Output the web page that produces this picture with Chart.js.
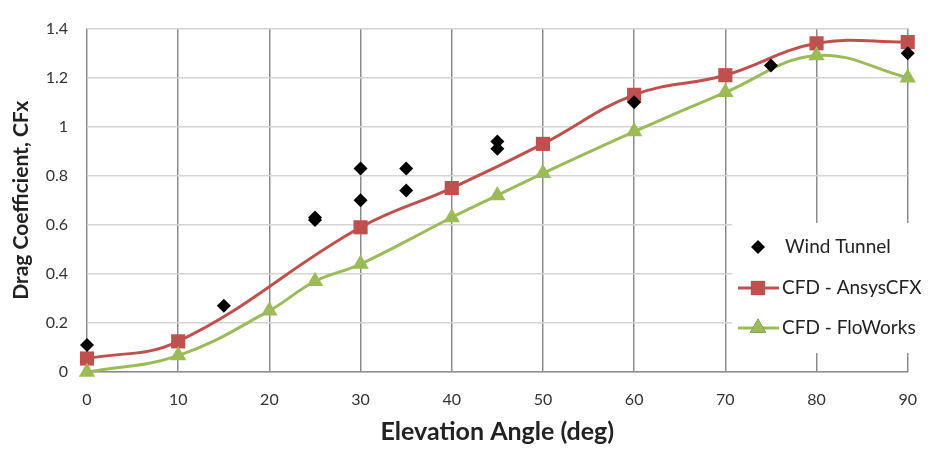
<!DOCTYPE html>
<html>
<head>
<meta charset="utf-8">
<script src="https://cdn.jsdelivr.net/npm/chart.js@4"></script>
<style>
  html, body { margin: 0; padding: 0; background: #fff; }
  #wrap { width: 935px; height: 452px; }
</style>
</head>
<body>
<div id="wrap"><canvas id="dragChart" width="935" height="452"></canvas></div>
<script>
// wind tunnel measurements (angle, Cfx)
const tunnelAngles = [0, 15, 25, 25, 30, 30, 35, 35, 45, 45, 60, 75, 90];
const tunnelCfx = [0.11, 0.27, 0.63, 0.62, 0.83, 0.70, 0.83, 0.74, 0.94, 0.91, 1.10, 1.25, 1.30];

// CFD - AnsysCFX
const ansysAngles = [0, 10, 30, 40, 50, 60, 70, 80, 90];
const ansysCfx = [0.055, 0.125, 0.59, 0.75, 0.93, 1.13, 1.21, 1.34, 1.345];

// CFD - FloWorks
const floAngles = [0, 10, 20, 25, 30, 40, 45, 50, 60, 70, 80, 90];
const floCfx = [0.0, 0.067, 0.25, 0.37, 0.44, 0.63, 0.72, 0.81, 0.98, 1.14, 1.29, 1.20];

const yTickLabels = ["0", "0.2", "0.4", "0.6", "0.8", "1", "1.2", "1.4"];
const xTickLabels = ["0", "10", "20", "30", "40", "50", "60", "70", "80", "90"];

const FONT = "Lato, 'Open Sans', sans-serif";

function toPoints(xs, ys) {
  return xs.map((x, i) => ({ x: x, y: ys[i] }));
}

// legend drawn as a white box inside the plot, like the original
const boxLegend = {
  id: "boxLegend",
  afterDatasetsDraw(chart) {
    const ctx = chart.ctx;
    ctx.save();
    ctx.fillStyle = "#fff";
    ctx.fillRect(732, 223, 203, 130);
    const rows = [247, 288, 328];
    chart.data.datasets.forEach((ds, i) => {
      const y = rows[i];
      if (ds.showLine) {
        ctx.strokeStyle = ds.borderColor;
        ctx.lineWidth = 3;
        ctx.beginPath();
        ctx.moveTo(738, y);
        ctx.lineTo(779, y);
        ctx.stroke();
      }
      Chart.helpers.drawPoint(ctx, {
        pointStyle: ds.pointStyle,
        radius: ds.pointRadius,
        borderWidth: 0
      }, 758, y);
      ctx.fillStyle = ds.pointBackgroundColor;
      ctx.fill();
      ctx.fillStyle = "#222";
      ctx.font = "19px " + FONT;
      ctx.textBaseline = "middle";
      ctx.fillText(ds.label, i === 0 ? 785 : 782, y);
    });
    ctx.restore();
  }
};

const ctx = document.getElementById("dragChart").getContext("2d");
new Chart(ctx, {
  type: "scatter",
  data: {
    datasets: [
      {
        label: "Wind Tunnel",
        data: toPoints(tunnelAngles, tunnelCfx),
        pointStyle: "rectRot",
        pointRadius: 7,
        pointBackgroundColor: "#000",
        pointBorderWidth: 0,
        showLine: false,
        clip: false,
        order: 0
      },
      {
        label: "CFD - AnsysCFX",
        data: toPoints(ansysAngles, ansysCfx),
        showLine: true,
        borderColor: "#C0504D",
        borderWidth: 3,
        tension: 0.4,
        pointStyle: "rect",
        pointRadius: 10,
        pointBackgroundColor: "#C0504D",
        pointBorderWidth: 0,
        clip: false,
        order: 2
      },
      {
        label: "CFD - FloWorks",
        data: toPoints(floAngles, floCfx),
        showLine: true,
        borderColor: "#9BBB59",
        borderWidth: 3,
        tension: 0.4,
        pointStyle: "triangle",
        pointRadius: 9.5,
        pointBackgroundColor: "#9BBB59",
        pointBorderWidth: 0,
        clip: false,
        order: 1
      }
    ]
  },
  options: {
    responsive: false,
    animation: false,
    layout: { padding: { top: 15, right: 26, left: 0, bottom: 0 } },
    plugins: {
      legend: { display: false },
      tooltip: { enabled: false }
    },
    scales: {
      x: {
        type: "linear",
        min: 0,
        max: 90,
        afterFit(scale) { scale.height = 80; },
        ticks: {
          stepSize: 10,
          padding: 18,
          color: "#333",
          font: { family: FONT, size: 16 },
          callback: (v) => xTickLabels[Math.round(v / 10)]
        },
        grid: { color: "#8c8c8c", lineWidth: 1.5, drawTicks: false },
        border: { color: "#8c8c8c", width: 1.5 },
        title: {
          display: true,
          text: "Elevation Angle (deg)",
          color: "#222",
          font: { family: FONT, size: 25, weight: "bold" },
          padding: { top: 4, bottom: 5 }
        }
      },
      y: {
        min: 0,
        max: 1.4,
        afterFit(scale) { scale.width = 87; },
        ticks: {
          stepSize: 0.2,
          padding: 19,
          color: "#333",
          font: { family: FONT, size: 16 },
          callback: (v) => yTickLabels[Math.round(v / 0.2)]
        },
        grid: { color: "#d4d4d4", lineWidth: 1.5, drawTicks: false },
        border: { display: false },
        title: {
          display: true,
          text: "Drag Coefficient, CFx",
          color: "#222",
          font: { family: FONT, size: 21, weight: "bold" },
          padding: { top: 9, bottom: 4 }
        }
      }
    }
  },
  plugins: [boxLegend]
});
</script>
</body>
</html>
